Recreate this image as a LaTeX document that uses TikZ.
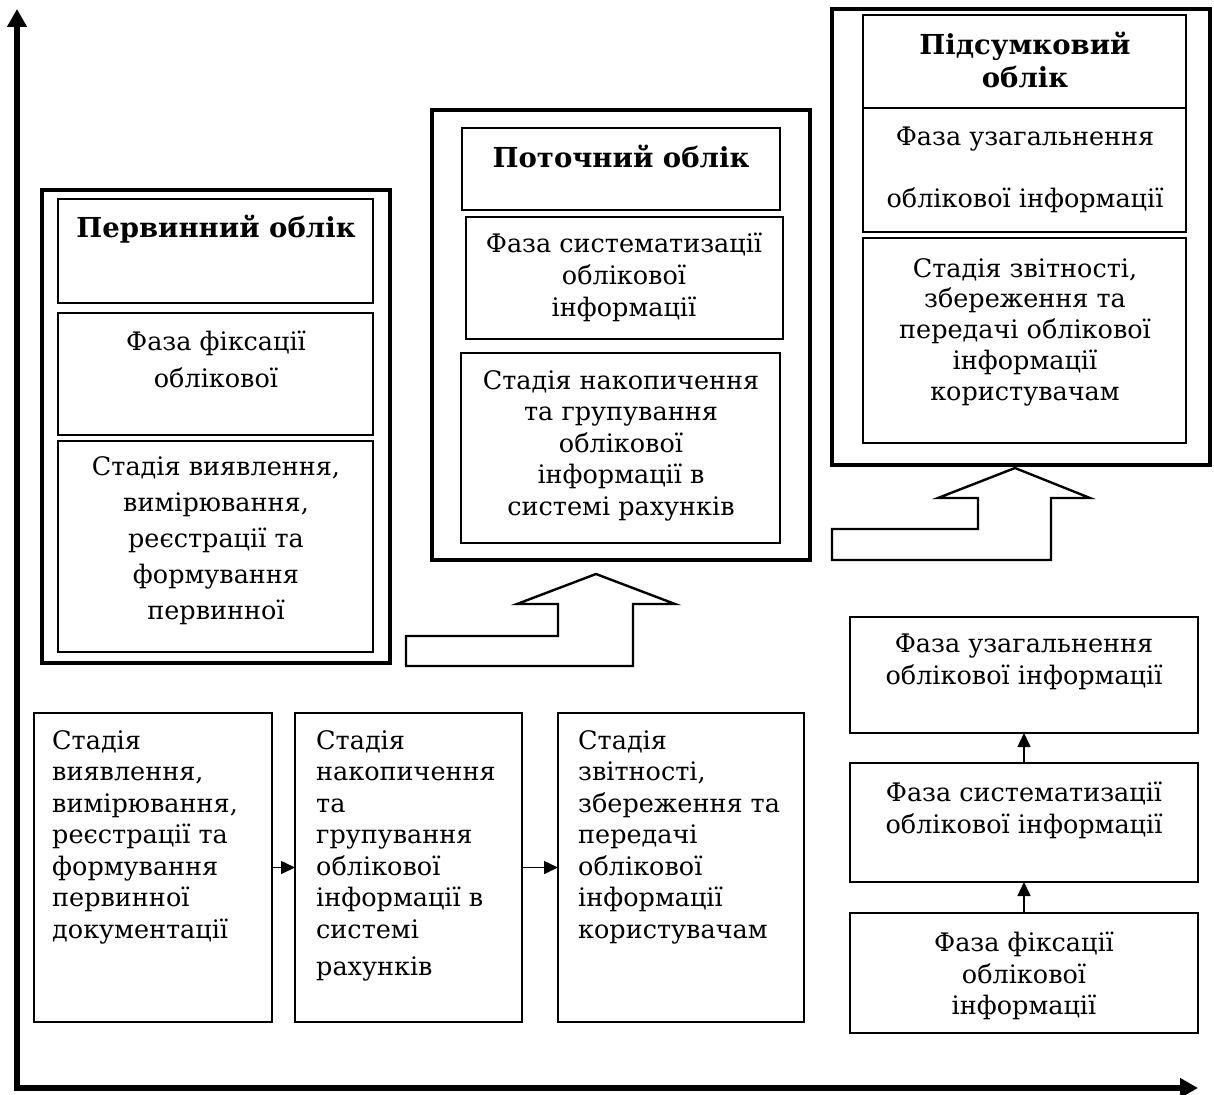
\documentclass[tikz,border=0pt]{standalone}
\usepackage{fontspec}
\setmainfont{DejaVu Serif}
\usetikzlibrary{arrows.meta}
\begin{document}
\begin{tikzpicture}[x=1pt,y=-1pt,
  outerbox/.style={draw,line width=4.5pt,inner sep=0,outer sep=0},
  innerbox/.style={draw,line width=1.8pt,inner sep=0,outer sep=0},
  txt/.style={inner sep=0,align=center,anchor=north,font=\fontsize{25.5}{31.5}\selectfont},
  ltxt/.style={inner sep=0,align=left,anchor=north west,font=\fontsize{25.5}{31.5}\selectfont},
  ttl/.style={inner sep=0,align=center,anchor=north,font=\fontsize{27.5}{33}\selectfont\bfseries},
  hollow/.style={draw,line width=2.4pt,line join=miter},
  axis/.style={line width=6pt,line join=miter},
  small/.style={line width=1.6pt,-{Triangle[length=14pt,width=13pt]}}]
\useasboundingbox (0,0) rectangle (1214,1094);
% axes
\coordinate (o) at (17,1088);
\coordinate (ytop) at (17,9);
\coordinate (xend) at (1198,1088);
\draw[axis,{Triangle[length=18pt,width=19pt]}-{Triangle[length=18pt,width=19pt]}] (ytop) -- (o) -- (xend);
% box 1
\node[outerbox,minimum width=348,minimum height=473] (o1) at (216,426.5) {};
\node[innerbox,minimum width=315,minimum height=104] (t1) at (215.5,251) {};
\node[innerbox,minimum width=315,minimum height=122] (p1) at (215.5,374) {};
\node[innerbox,minimum width=315,minimum height=211] (s1) at (215.5,546.5) {};
\node[ttl] (t1x) at (216,215) {Первинний облік};
\node[txt,font=\fontsize{25.5}{37}\selectfont] (p1x) at (216,331) {Фаза фіксації\\облікової};
\node[txt,font=\fontsize{25.5}{36}\selectfont] (s1x) at (216,456) {Стадія виявлення,\\вимірювання,\\реєстрації та\\формування\\первинної};
% box 2
\node[outerbox,minimum width=378,minimum height=450] (o2) at (621,335) {};
\node[innerbox,minimum width=318,minimum height=82] (t2) at (621,169) {};
\node[innerbox,minimum width=317,minimum height=122] (p2) at (624.5,278) {};
\node[innerbox,minimum width=319,minimum height=190] (s2) at (620.5,448) {};
\node[ttl] (t2x) at (621,145) {Поточний облік};
\node[txt,font=\fontsize{25.5}{32}\selectfont] (p2x) at (624,233) {Фаза систематизації\\облікової\\інформації};
\node[txt] (s2x) at (621,370) {Стадія накопичення\\та групування\\облікової\\інформації в\\системі рахунків};
% box 3
\node[outerbox,minimum width=378,minimum height=456] (o3) at (1021,237) {};
\node[innerbox,minimum width=323,minimum height=93] (t3) at (1024.5,61.5) {};
\node[innerbox,minimum width=323,minimum height=124] (p3) at (1024.5,170) {};
\node[innerbox,minimum width=323,minimum height=205] (s3) at (1024.5,340.5) {};
\node[ttl] (t3x) at (1025,32) {Підсумковий\\облік};
\node[txt,font=\fontsize{25.5}{30}\selectfont] (p3x) at (1025,127) {Фаза узагальнення\\[32pt]облікової інформації};
\node[txt,font=\fontsize{25.5}{30.75}\selectfont] (s3x) at (1025,258) {Стадія звітності,\\збереження та\\передачі облікової\\інформації\\користувачам};
% hollow arrows
\draw[hollow] (406,636) -- (558,636) -- (558,604) -- (517,604) -- (596,574) -- (675,604) -- (633,604) -- (633,666) -- (406,666) -- cycle;
\draw[hollow] (832,529) -- (978,529) -- (978,498) -- (938,498) -- (1015,468) -- (1090,498) -- (1051,498) -- (1051,560) -- (832,560) -- cycle;
% bottom boxes
\node[innerbox,minimum width=238,minimum height=309] (b1) at (153,867.5) {};
\node[innerbox,minimum width=227,minimum height=309] (b2) at (408.5,867.5) {};
\node[innerbox,minimum width=246,minimum height=309] (b3) at (681,867.5) {};
\node[ltxt] (b1x) at (52,730) {Стадія\\виявлення,\\вимірювання,\\реєстрації та\\формування\\первинної\\документації};
\node[ltxt] (b2x) at (316,730) {Стадія\\накопичення\\та\\групування\\облікової\\інформації в\\системі\\[6pt]рахунків};
\node[ltxt] (b3x) at (578,730) {Стадія\\звітності,\\збереження та\\передачі\\облікової\\інформації\\користувачам};
\draw[small] (b1.east) -- (b2.west);
\draw[small] (b2.east) -- (b3.west);
% right stack
\node[innerbox,minimum width=348,minimum height=116] (r1) at (1024,675) {};
\node[innerbox,minimum width=348,minimum height=119] (r2) at (1024,822.5) {};
\node[innerbox,minimum width=348,minimum height=120] (r3) at (1024,973) {};
\node[txt] (r1x) at (1024,634) {Фаза узагальнення\\облікової інформації};
\node[txt] (r2x) at (1024,782) {Фаза систематизації\\облікової інформації};
\node[txt] (r3x) at (1024,932) {Фаза фіксації\\облікової\\інформації};
\draw[small] (r2.north) -- (r1.south);
\draw[small] (r3.north) -- (r2.south);
\end{tikzpicture}
\end{document}
